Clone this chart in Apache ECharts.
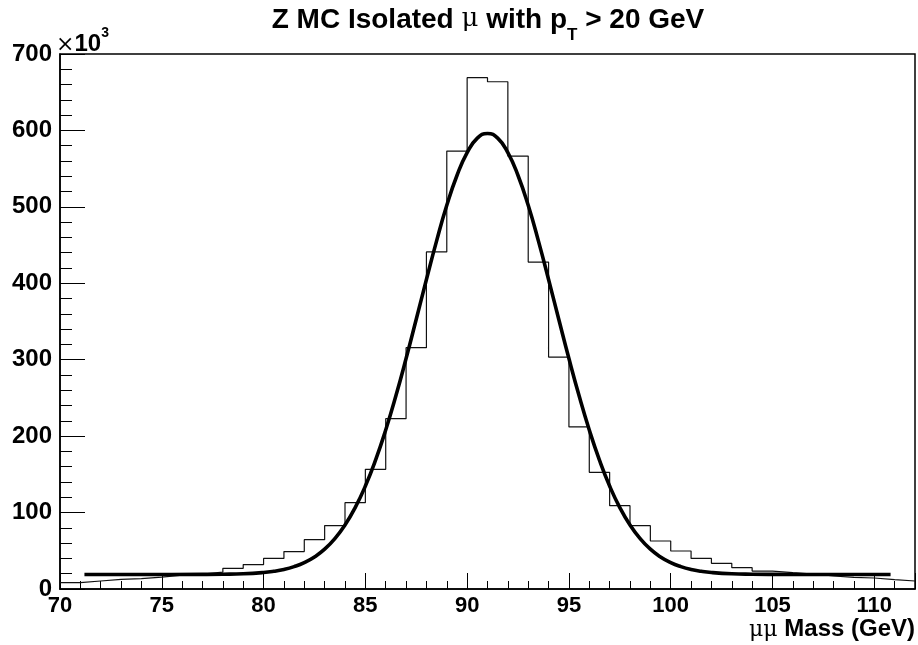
<!DOCTYPE html>
<html><head><meta charset="utf-8">
<script src="https://cdn.jsdelivr.net/npm/echarts@6/dist/echarts.min.js"></script>
<style>html,body{margin:0;padding:0;background:#fff}#c{width:918px;height:645px}</style>
</head><body><div id="c"></div>
<script>
// Histogram: bin low edges (GeV), bin width 1 GeV, counts in units of 10^3
const binLowEdges = [70,71,72,73,74,75,76,77,78,79,80,81,82,83,84,85,86,87,88,89,90,91,92,93,94,95,96,97,98,99,100,101,102,103,104,105,106,107,108,109,110,111];
const binWidth = 1;
const counts = [8.3,10.5,12.5,13.5,15.5,18,19.5,22,27,32,40,49,64.5,83,113,156.6,222.8,315.7,441,573,669,663.7,566.5,427.8,303.5,212,152.7,109,82.8,62.8,49.7,40,33.6,27.9,23.5,21.3,19.6,17,15.3,14.4,12.2,10.5];
// Fit curve (x in GeV, y in 10^3)
const fitX = [71.2,74,77,78,79,80,80.5,81,81.5,82,82.5,83,83.5,84,84.5,85,85.5,86,86.5,87,87.5,88,88.5,89,89.5,90,90.5,91,91.5,92,92.5,93,93.5,94,94.5,95,95.5,96,96.5,97,97.5,98,98.5,99,99.5,100,100.5,101,101.5,102,103,104,105,108,110.8];
const fitY = [19,19,19.1,19.3,19.9,21.6,23.2,25.6,29.3,34.5,41.9,52.1,65.9,83.7,106.5,134.7,168.6,208,252.7,301.5,353,405,455.5,502,541,571,590,596,590,571,541,502,455.5,405,353,301.5,252.7,208,168.6,134.7,106.5,83.7,65.9,52.1,41.9,34.5,29.3,25.6,23.2,21.6,19.9,19.3,19.1,19,19];
const xMin = 70, xMax = 112, xMajor = 5, xMinor = 1;
const yMin = 0, yMax = 700, yMajor = 100;
const titleParts = ['Z MC Isolated ', 'μ', ' with p', 'T', ' > 20 GeV'];
const xTitle = ['μμ', ' Mass (GeV)'];
const yScaleParts = ['×', '10', '3'];

const histData = binLowEdges.map((x, i) => [x, counts[i]]);
histData.push([binLowEdges[binLowEdges.length - 1] + binWidth, counts[counts.length - 1]]);
const fitData = fitX.map((x, i) => [x, fitY[i]]);

const chart = echarts.init(document.getElementById('c'), null, {renderer: 'canvas'});
const black = '#000';
const sans = 'Liberation Sans, Arial, sans-serif';
const serif = 'DejaVu Serif, serif';
chart.setOption({
  animation: false,
  backgroundColor: '#fff',
  grid: {left: 60, right: 2, top: 54, bottom: 56, show: true, borderColor: black, borderWidth: 1.5, backgroundColor: 'transparent'},
  xAxis: [
    {type: 'value', min: xMin, max: xMax, interval: xMinor, position: 'bottom', offset: 0,
     axisLine: {show: true, lineStyle: {color: black, width: 1.5}},
     axisTick: {show: true, inside: true, length: 8, lineStyle: {color: black, width: 1}},
     axisLabel: {show: false}, splitLine: {show: false}},
    {type: 'value', min: xMin, max: xMax, interval: xMajor, position: 'bottom', offset: 0,
     axisLine: {show: false},
     axisTick: {show: true, inside: true, length: 16, lineStyle: {color: black, width: 1}},
     axisLabel: {margin: 6, color: black, fontFamily: sans, fontWeight: 'bold', fontSize: 22,
                 formatter: v => (v % xMajor === 0 ? String(v) : '')},
     splitLine: {show: false}}
  ],
  yAxis: {type: 'value', min: yMin, max: yMax, interval: yMajor,
    axisLine: {show: true, lineStyle: {color: black, width: 1.5}},
    axisTick: {show: true, inside: true, length: 25, lineStyle: {color: black, width: 1}},
    minorTick: {show: true, splitNumber: 5, length: 12, lineStyle: {color: black, width: 1}},
    axisLabel: {margin: 8, color: black, fontFamily: sans, fontWeight: 'bold', fontSize: 24},
    splitLine: {show: false}},
  series: [
    {type: 'line', xAxisIndex: 0, data: histData, step: 'end', symbol: 'none',
     lineStyle: {color: '#111', width: 1.2}, z: 2},
    {type: 'line', xAxisIndex: 0, data: fitData, smooth: 0.5, symbol: 'none',
     lineStyle: {color: black, width: 3.6}, z: 3}
  ],
  graphic: [
    {type: 'text', x: 488, y: 6, style: {
      align: 'center', verticalAlign: 'top',
      text: '{b|' + titleParts[0] + '}{m|' + titleParts[1] + '}{b|' + titleParts[2] + '}{s|' + titleParts[3] + '}{b|' + titleParts[4] + '}',
      rich: {
        b: {fontFamily: sans, fontWeight: 'bold', fontSize: 28, lineHeight: 30, verticalAlign: 'top', fill: black},
        m: {fontFamily: serif, fontWeight: 'normal', fontSize: 26, lineHeight: 30, verticalAlign: 'top', fill: black},
        s: {fontFamily: sans, fontWeight: 'bold', fontSize: 17, lineHeight: 38, verticalAlign: 'bottom', fill: black}
      }
    }},
    {type: 'text', x: 56, y: 26, style: {
      align: 'left', verticalAlign: 'top',
      text: '{x|' + yScaleParts[0] + '}{a|' + yScaleParts[1] + '}{s|' + yScaleParts[2] + '}',
      rich: {
        x: {fontFamily: serif, fontWeight: 'normal', fontSize: 22, lineHeight: 30, verticalAlign: 'bottom', fill: black},
        a: {fontFamily: sans, fontWeight: 'bold', fontSize: 24, lineHeight: 30, verticalAlign: 'bottom', fill: black},
        s: {fontFamily: sans, fontWeight: 'bold', fontSize: 14, lineHeight: 14, verticalAlign: 'top', fill: black}
      }
    }},
    {type: 'text', x: 915, y: 641, style: {
      align: 'right', verticalAlign: 'bottom',
      text: '{m|' + xTitle[0] + '}{b|' + xTitle[1] + '}',
      rich: {
        m: {fontFamily: serif, fontWeight: 'normal', fontSize: 22, fill: black, verticalAlign: 'bottom', lineHeight: 28},
        b: {fontFamily: sans, fontWeight: 'bold', fontSize: 24, fill: black, verticalAlign: 'bottom', lineHeight: 28}
      }
    }}
  ]
});
</script></body></html>
